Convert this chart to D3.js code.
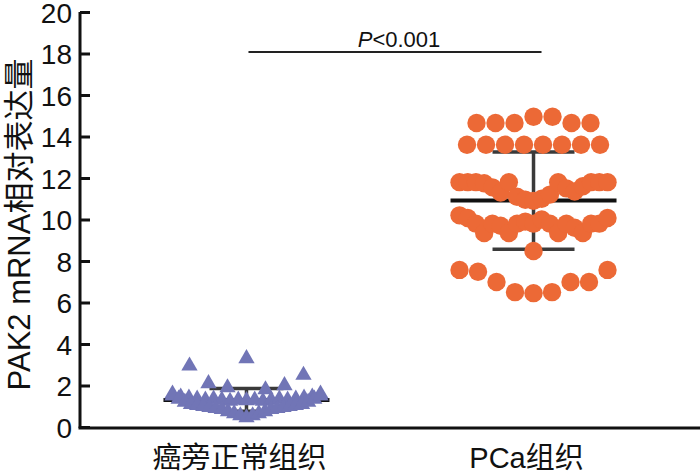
<!DOCTYPE html>
<html><head><meta charset="utf-8">
<script src="https://cdn.jsdelivr.net/npm/d3@7"></script>
<style>html,body{margin:0;padding:0;background:#fff;}svg{display:block;}</style>
</head><body>
<svg id="chart" width="700" height="473"></svg>
<script>
// ---- data ----
const categories = ["癌旁正常组织", "PCa组织"];
const yTickValues = [0, 2, 4, 6, 8, 10, 12, 14, 16, 18, 20];
const yAxisTitle = "PAK2 mRNA相对表达量";
const pValueText = "<0.001";

// values listed row by row, left-to-right within each row
const normalRows = [
  [2.95, 2.1, 1.9, 3.3, 1.8, 2.0, 2.5],
  [1.6, 1.45, 1.4, 1.35, 1.3, 1.35, 1.3, 1.25, 1.3, 1.28, 1.3, 1.25, 1.3, 1.35, 1.3, 1.35, 1.4, 1.45, 1.6],
  [1.5, 1.35, 1.2, 1.1, 1.05, 1.0, 0.95, 0.9, 0.85, 0.75, 0.65, 0.55, 0.45, 0.55, 0.65, 0.75, 0.85, 0.9, 0.95, 1.0, 1.05, 1.1, 1.2, 1.35, 1.5]
];
const pcaRows = [
  [14.65, 14.65, 14.65, 14.95, 14.95, 14.65, 14.65],
  [13.6, 13.6, 13.6, 13.6, 13.6, 13.6, 13.6, 13.6],
  [11.8, 11.8, 11.8, 11.75, 11.55, 11.3, 11.8, 11.1, 10.95, 10.9, 11.0, 11.2, 11.8, 11.5, 11.35, 11.6, 11.8, 11.8, 11.8],
  [10.2, 10.07, 9.8, 9.35, 9.8, 9.7, 9.35, 9.8, 9.9, 9.8, 10.0, 9.8, 9.35, 9.8, 9.6, 9.35, 9.8, 9.8, 10.07],
  [8.48],
  [7.57, 7.48, 6.99, 6.5, 6.45, 6.5, 6.99, 6.99, 7.57]
];

// ---- setup ----
const svg = d3.select("#chart");
const mLeft = 80, mRight = 700, mTop = 12, mBottom = 427;
const x = d3.scalePoint().domain(categories).range([mLeft, mRight]).padding(0.58);
const y = d3.scaleLinear().domain([0, 20]).range([mBottom, mTop]);
const font = "Arial, 'Liberation Sans', 'Noto Sans CJK SC', sans-serif";

const colors = {normal: "#7175B6", pca: "#EC6936"};
const step = 19, maxSpan = 148;

function layout(rows, cat) {
  const pts = [];
  rows.forEach(row => {
    const n = row.length;
    const sp = n > 1 ? Math.min(step, maxSpan / (n - 1)) : 0;
    row.forEach((v, i) => pts.push({v, x: x(cat) + (i - (n - 1) / 2) * sp, y: y(v)}));
  });
  return pts;
}
function stats(rows) {
  const all = rows.flat();
  return {mean: d3.mean(all), sd: d3.deviation(all)};
}

function drawBars(cat, s, capHalf) {
  const g = svg.append("g");
  const cx = x(cat);
  g.append("line").attr("x1", cx).attr("x2", cx).attr("y1", y(s.mean - s.sd)).attr("y2", y(s.mean + s.sd))
    .attr("stroke", "#3a3a3a").attr("stroke-width", 3.5);
  [s.mean - s.sd, s.mean + s.sd].forEach(v => {
    g.append("line").attr("x1", cx - capHalf).attr("x2", cx + capHalf).attr("y1", y(v)).attr("y2", y(v))
      .attr("stroke", "#3a3a3a").attr("stroke-width", 3.5);
  });
  g.append("line").attr("x1", cx - 83).attr("x2", cx + 83).attr("y1", y(s.mean)).attr("y2", y(s.mean))
    .attr("stroke", "#111").attr("stroke-width", 4);
}

// normal tissue: triangles
const sN = stats(normalRows);
const triPath = d3.symbol().type(d3.symbolTriangle).size(115);
drawBars(categories[0], sN, 37);
svg.append("g").selectAll("path").data(layout(normalRows, categories[0])).join("path")
  .attr("d", triPath).attr("transform", d => `translate(${d.x},${d.y})`)
  .attr("fill", colors.normal);

// PCa: circles
const sP = stats(pcaRows);
drawBars(categories[1], sP, 41);
svg.append("g").selectAll("circle").data(layout(pcaRows, categories[1])).join("circle")
  .attr("cx", d => d.x).attr("cy", d => d.y).attr("r", 9.2).attr("fill", colors.pca);

// ---- axes ----
const yAxis = d3.axisRight(y).tickValues(yTickValues).tickSize(10).tickFormat(d3.format("d"));
const gy = svg.append("g").attr("transform", `translate(${mLeft},0)`).call(yAxis);
gy.select(".domain").attr("d", `M0,${mTop}V${mBottom + 1}`).attr("stroke", "#111").attr("stroke-width", 3);
gy.selectAll(".tick line").attr("stroke", "#111").attr("stroke-width", 3);
gy.selectAll(".tick text").attr("x", -8).attr("text-anchor", "end").attr("dy", "0.36em")
  .attr("font-family", font).attr("font-size", 28).attr("fill", "#111");

const gx = svg.append("g").attr("transform", `translate(0,${mBottom + 1})`);
gx.append("line").attr("x1", mLeft - 1.5).attr("x2", mRight).attr("stroke", "#111").attr("stroke-width", 3);
gx.selectAll("text").data(categories).join("text")
  .attr("x", d => x(d) - 7).attr("y", 40).attr("text-anchor", "middle")
  .attr("font-family", font).attr("font-size", 29).attr("fill", "#111").text(d => d);

svg.append("text").attr("transform", `translate(30,${(mTop + mBottom) / 2 + 5}) rotate(-90)`)
  .attr("text-anchor", "middle").attr("font-family", font).attr("font-size", 31).attr("fill", "#111")
  .text(yAxisTitle);

// significance bracket
const sigY = 52;
svg.append("line").attr("x1", x(categories[0]) + 2).attr("x2", x(categories[1]) + 8)
  .attr("y1", sigY).attr("y2", sigY).attr("stroke", "#222").attr("stroke-width", 2);
const pt = svg.append("text").attr("x", (x(categories[0]) + x(categories[1])) / 2 + 9).attr("y", sigY - 5)
  .attr("text-anchor", "middle").attr("font-family", font).attr("font-size", 22).attr("fill", "#111");
pt.append("tspan").attr("font-style", "italic").text("P");
pt.append("tspan").text(pValueText);
</script>
</body></html>
